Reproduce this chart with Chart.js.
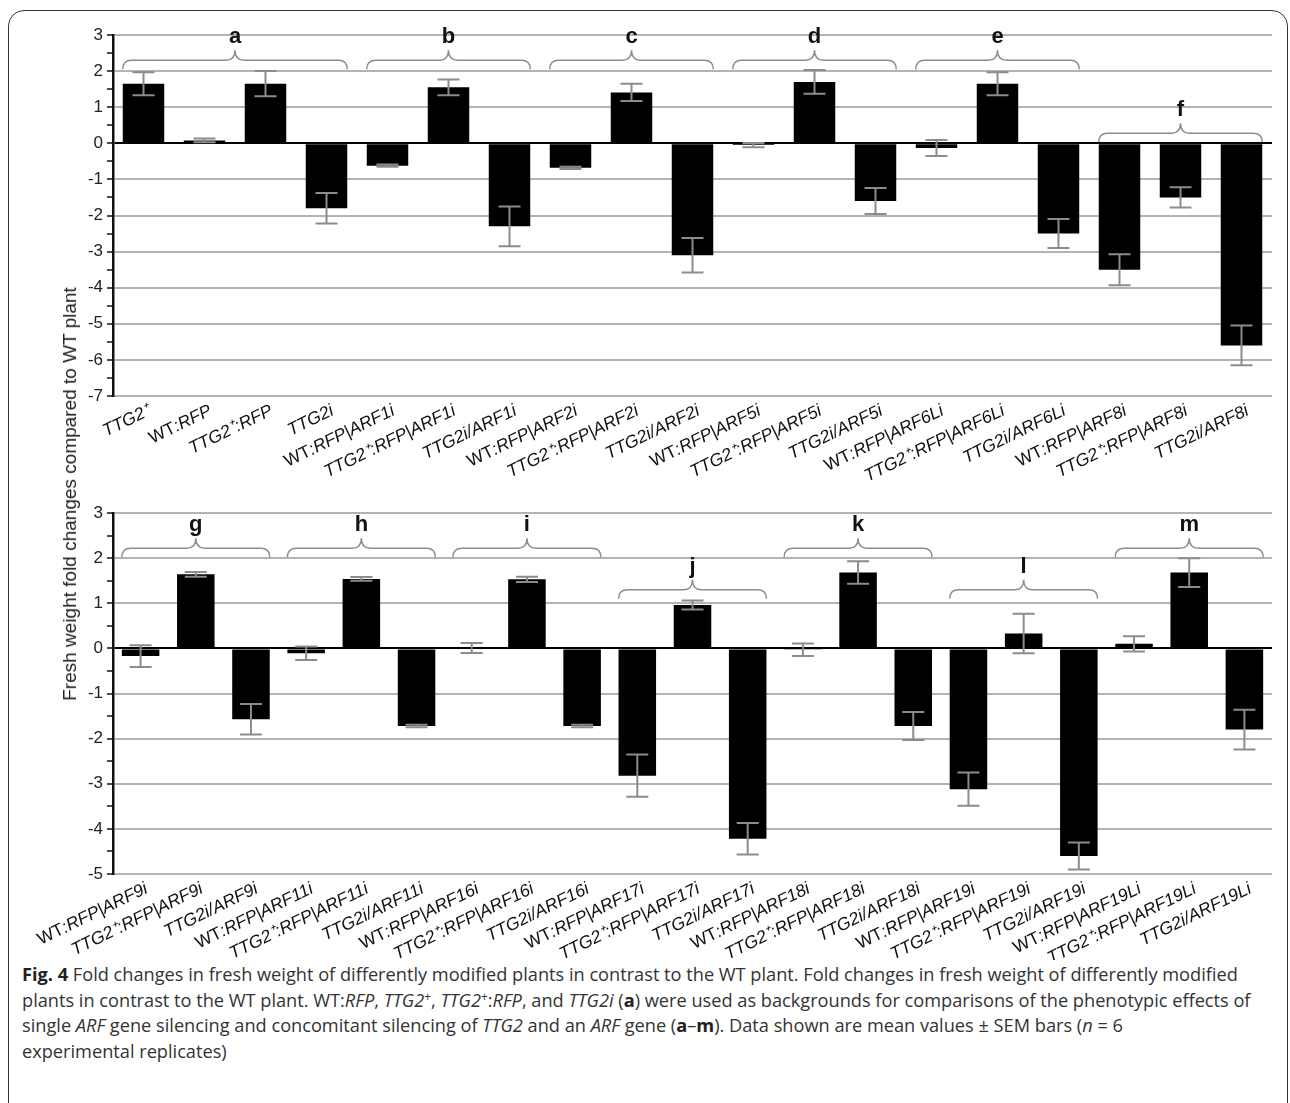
<!DOCTYPE html>
<html>
<head>
<meta charset="utf-8">
<script src="https://cdn.jsdelivr.net/npm/chart.js@4.4.1/dist/chart.umd.min.js"></script>
<style>
 body { margin:0; background:#fff; width:1290px; height:1103px; overflow:hidden; position:relative; font-family:"Liberation Sans", Arial, sans-serif; }
 #frame { position:absolute; left:8px; top:10px; width:1280px; height:1120px; border:1.5px solid #333; border-radius:16px; box-sizing:border-box; }
 canvas { position:absolute; left:0; }
 #c1 { top:0; }
 #c2 { top:480px; }
 #ytitle { position:absolute; left:70px; top:494px; transform:translate(-50%,-50%) rotate(-90deg); white-space:nowrap; font-size:19px; color:#222; }
 #caption { position:absolute; left:22px; top:962px; font-family:"Open Sans", Lato, sans-serif; font-size:18.2px; line-height:25.7px; color:#333; white-space:nowrap; }
 #caption b { color:#222; }
 #caption sup { font-size:0.65em; line-height:0; vertical-align:0.55em; }
</style>
</head>
<body>
<div id="frame"></div>
<canvas id="c1" width="1290" height="480"></canvas>
<canvas id="c2" width="1290" height="480"></canvas>
<div id="ytitle">Fresh weight fold changes compared to WT plant</div>
<div id="caption">
<b>Fig. 4</b> Fold changes in fresh weight of differently modified plants in contrast to the WT plant. Fold changes in fresh weight of differently modified<br>
plants in contrast to the WT plant. WT:<i>RFP</i>, <i>TTG2</i><sup>+</sup>, <i>TTG2</i><sup>+</sup>:<i>RFP</i>, and <i>TTG2i</i> (<b>a</b>) were used as backgrounds for comparisons of the phenotypic effects of<br>
single <i>ARF</i> gene silencing and concomitant silencing of <i>TTG2</i> and an <i>ARF</i> gene (<b>a</b>–<b>m</b>). Data shown are mean values ± SEM bars (<i>n</i> = 6<br>
experimental replicates)
</div>
<script>
// top panel (a-f)
const topLabels = ['TTG2⁺','WT:RFP','TTG2⁺:RFP','TTG2i','WT:RFP|ARF1i','TTG2⁺:RFP|ARF1i','TTG2i/ARF1i',
  'WT:RFP|ARF2i','TTG2⁺:RFP|ARF2i','TTG2i/ARF2i','WT:RFP|ARF5i','TTG2⁺:RFP|ARF5i','TTG2i/ARF5i',
  'WT:RFP|ARF6Li','TTG2⁺:RFP|ARF6Li','TTG2i/ARF6Li','WT:RFP|ARF8i','TTG2⁺:RFP|ARF8i','TTG2i/ARF8i'];
const topMeans = [1.65, 0.08, 1.65, -1.8, -0.62, 1.55, -2.3, -0.68, 1.41, -3.1, -0.05, 1.7, -1.6, -0.13, 1.65, -2.5, -3.5, -1.5, -5.6];
const topSem = [0.32, 0.05, 0.35, 0.42, 0.03, 0.22, 0.55, 0.03, 0.24, 0.48, 0.06, 0.33, 0.36, 0.22, 0.32, 0.4, 0.43, 0.28, 0.55];
const topGroups = ['a', 'b', 'c', 'd', 'e', 'f'];
const topFirst = [0, 4, 7, 10, 13, 16];
const topLast = [3, 6, 9, 12, 15, 18];
const topLevel = ['hi', 'hi', 'hi', 'hi', 'hi', 'lo'];

// bottom panel (g-m)
const botLabels = ['WT:RFP|ARF9i','TTG2⁺:RFP|ARF9i','TTG2i/ARF9i','WT:RFP|ARF11i','TTG2⁺:RFP|ARF11i','TTG2i/ARF11i',
  'WT:RFP|ARF16i','TTG2⁺:RFP|ARF16i','TTG2i/ARF16i','WT:RFP|ARF17i','TTG2⁺:RFP|ARF17i','TTG2i/ARF17i',
  'WT:RFP|ARF18i','TTG2⁺:RFP|ARF18i','TTG2i/ARF18i','WT:RFP|ARF19i','TTG2⁺:RFP|ARF19i','TTG2i/ARF19i',
  'WT:RFP|ARF19Li','TTG2⁺:RFP|ARF19Li','TTG2i/ARF19Li'];
const botMeans = [-0.17, 1.64, -1.57, -0.11, 1.54, -1.72, 0.01, 1.53, -1.72, -2.82, 0.96, -4.22, -0.03, 1.68, -1.72, -3.12, 0.33, -4.6, 0.1, 1.68, -1.8];
const botSem = [0.24, 0.05, 0.34, 0.15, 0.04, 0.03, 0.11, 0.06, 0.03, 0.47, 0.1, 0.35, 0.14, 0.25, 0.31, 0.37, 0.44, 0.3, 0.17, 0.32, 0.44];
const botGroups = ['g', 'h', 'i', 'j', 'k', 'l', 'm'];
const botFirst = [0, 3, 6, 9, 12, 15, 18];
const botLast = [2, 5, 8, 11, 14, 17, 20];
const botLevel = ['hi', 'hi', 'hi', 'lo', 'hi', 'lo', 'hi'];

const FONT = '"Liberation Sans", Arial, sans-serif';

// SEM whiskers
const errorBars = {
  id: 'errorBars',
  afterDatasetsDraw(chart) {
    const ds = chart.data.datasets[0];
    const meta = chart.getDatasetMeta(0);
    const y = chart.scales.y;
    const ctx = chart.ctx;
    ctx.save();
    ctx.strokeStyle = '#8c8c8c';
    ctx.lineWidth = 2;
    meta.data.forEach((bar, i) => {
      const hi = y.getPixelForValue(ds.data[i] + ds.sem[i]);
      const lo = y.getPixelForValue(ds.data[i] - ds.sem[i]);
      const c = 11;
      ctx.beginPath();
      ctx.moveTo(bar.x, hi); ctx.lineTo(bar.x, lo);
      ctx.moveTo(bar.x - c, hi); ctx.lineTo(bar.x + c, hi);
      ctx.moveTo(bar.x - c, lo); ctx.lineTo(bar.x + c, lo);
      ctx.stroke();
    });
    ctx.restore();
  }
};

// curly braces with group letters
const braces = {
  id: 'braces',
  afterDraw(chart, args, opts) {
    const ds = chart.data.datasets[0];
    const meta = chart.getDatasetMeta(0);
    const y = chart.scales.y;
    const ctx = chart.ctx;
    ctx.save();
    ctx.strokeStyle = '#8c8c8c';
    ctx.lineWidth = 1.5;
    ctx.fillStyle = '#111';
    ctx.font = 'bold 22px ' + FONT;
    ctx.textAlign = 'center';
    ctx.textBaseline = 'middle';
    ds.groups.forEach((g, k) => {
      const a = meta.data[ds.first[k]], b = meta.data[ds.last[k]];
      const x1 = a.x - a.width / 2, x2 = b.x + b.width / 2, xm = (x1 + x2) / 2;
      const yb = y.getPixelForValue(opts.levels[ds.level[k]]);
      const yl = yb - 9, yp = yb - 19, r = 9;
      ctx.beginPath();
      ctx.moveTo(x1, yb);
      ctx.quadraticCurveTo(x1, yl, x1 + r, yl);
      ctx.lineTo(xm - r, yl);
      ctx.quadraticCurveTo(xm, yl, xm, yp);
      ctx.quadraticCurveTo(xm, yl, xm + r, yl);
      ctx.lineTo(x2 - r, yl);
      ctx.quadraticCurveTo(x2, yl, x2, yb);
      ctx.stroke();
      ctx.fillText(g, xm, yp - 13);
    });
    ctx.restore();
  }
};

// slanted category labels, WT upright and gene names italic
const slantLabels = {
  id: 'slantLabels',
  afterDraw(chart) {
    const meta = chart.getDatasetMeta(0);
    const ctx = chart.ctx;
    const bottom = chart.chartArea.bottom;
    const size = '17.5px ';
    ctx.save();
    ctx.fillStyle = '#111';
    ctx.textBaseline = 'middle';
    chart.data.labels.forEach((lab, i) => {
      const segs = lab.startsWith('WT') ? [['WT', ''], [lab.slice(2), 'italic ']] : [[lab, 'italic ']];
      let w = 0;
      segs.forEach(s => { ctx.font = s[1] + size + FONT; w += ctx.measureText(s[0]).width; });
      ctx.save();
      ctx.translate(meta.data[i].x + 6, bottom + 14);
      ctx.rotate(-26 * Math.PI / 180);
      ctx.textAlign = 'left';
      let x = -w;
      segs.forEach(s => { ctx.font = s[1] + size + FONT; ctx.fillText(s[0], x, 0); x += ctx.measureText(s[0]).width; });
      ctx.restore();
    });
    ctx.restore();
  }
};

function makeChart(id, labels, means, sem, groups, first, last, level, yMin, yMax, padTop, xHeight, levels) {
  return new Chart(document.getElementById(id), {
    type: 'bar',
    data: {
      labels: labels,
      datasets: [{
        data: means,
        sem: sem, groups: groups, first: first, last: last, level: level,
        backgroundColor: '#000',
        borderWidth: 0,
        barPercentage: 0.68,
        categoryPercentage: 1
      }]
    },
    options: {
      responsive: false,
      animation: false,
      layout: { padding: { left: 0, right: 18, top: padTop, bottom: 0 } },
      plugins: { legend: { display: false }, tooltip: { enabled: false }, braces: { levels: levels } },
      scales: {
        x: {
          grid: { display: false },
          border: { display: false },
          ticks: { display: false },
          afterFit(s) { s.height = xHeight; }
        },
        y: {
          min: yMin, max: yMax,
          afterFit(s) { s.width = 113; },
          ticks: {
            stepSize: 0.5, autoSkip: false, padding: 4, color: '#222',
            font: { size: 17, family: FONT },
            callback: v => Number.isInteger(v) ? v : ''
          },
          grid: {
            color: c => c.tick.value === 0 ? '#000' : (Number.isInteger(c.tick.value) ? '#b3b3b3' : 'rgba(0,0,0,0)'),
            lineWidth: 2,
            tickColor: '#111', tickWidth: 1.5, tickLength: 6
          },
          border: { display: true, color: '#111', width: 2.5 }
        }
      }
    },
    plugins: [errorBars, braces, slantLabels]
  });
}

makeChart('c1', topLabels, topMeans, topSem, topGroups, topFirst, topLast, topLevel, -7, 3, 35, 84, { hi: 2.05, lo: 0.03 });
makeChart('c2', botLabels, botMeans, botSem, botGroups, botFirst, botLast, botLevel, -5, 3, 33, 86, { hi: 2.02, lo: 1.1 });
</script>
</body>
</html>
